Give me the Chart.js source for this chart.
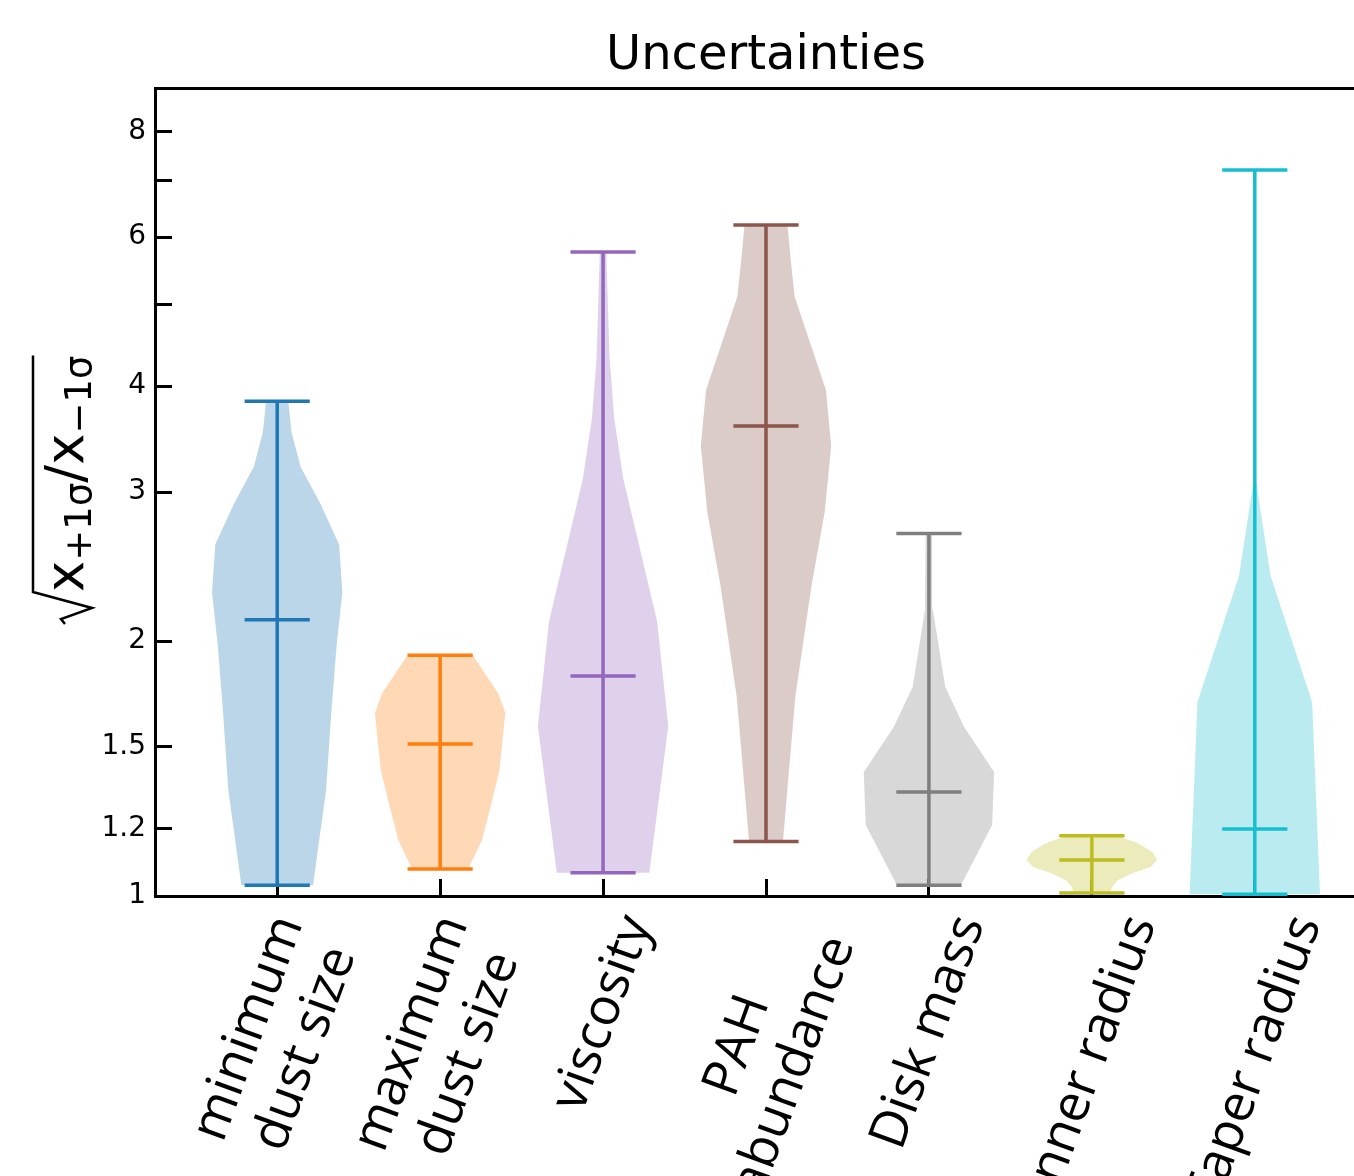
<!DOCTYPE html>
<html>
<head>
<meta charset="utf-8">
<title>Uncertainties</title>
<script src="https://cdn.jsdelivr.net/npm/chart.js@4.4.1/dist/chart.umd.min.js"></script>
<style>
  html, body { margin: 0; padding: 0; background: #fff; overflow: hidden; }
  #wrap { width: 1354px; height: 1176px; overflow: hidden; }
</style>
</head>
<body>
<div id="wrap"><canvas id="chartViolin" width="1532" height="1176"></canvas></div>
<script>
// categories (one violin each)
const categories = [['minimum', 'dust size'], ['maximum', 'dust size'], ['viscosity'], ['PAH', 'abundance'], ['Disk mass'], ['Inner radius'], ['Taper radius']];
const seriesColors = ['#1f77b4', '#ff7f0e', '#9467bd', '#8c564b', '#7f7f7f', '#bcbd22', '#17becf'];

const yTickValues = [1, 1.2, 1.5, 2, 3, 4, 5, 6, 7, 8];
const yTickLabels = ['1', '1.2', '1.5', '2', '3', '4', '', '6', '', '8'];

// violin outlines : levels on the y axis, density scaled so the widest point = 1
const minDustLevels = [1.03, 1.334, 1.645, 1.97, 2.285, 2.60, 2.91, 3.21, 3.53, 3.84];
const minDustDensity = [0.55, 0.75, 0.83, 0.91, 1.0, 0.95, 0.66, 0.36, 0.22, 0.17];

const maxDustLevels = [1.076, 1.164, 1.263, 1.408, 1.645, 1.736, 1.925];
const maxDustDensity = [0.43, 0.64, 0.76, 0.91, 1.0, 0.89, 0.5];

const viscosityLevels = [1.065, 1.587, 2.11, 3.11, 3.67, 4.32, 5.76];
const viscosityDensity = [0.71, 1.0, 0.83, 0.31, 0.17, 0.1, 0.05];

const pahLevels = [1.16, 1.72, 2.33, 2.84, 3.40, 3.96, 5.10, 5.63, 6.20];
const pahDensity = [0.26, 0.45, 0.70, 0.90, 1.0, 0.92, 0.44, 0.38, 0.33];

const diskMassLevels = [1.03, 1.213, 1.401, 1.583, 1.765, 2.18, 2.68];
const diskMassDensity = [0.49, 0.97, 1.0, 0.54, 0.25, 0.06, 0.05];

const innerRadiusLevels = [1.008, 1.025, 1.0445, 1.0645, 1.082, 1.103, 1.127, 1.155, 1.178];
const innerRadiusDensity = [0.28, 0.31, 0.40, 0.63, 0.9, 1.0, 0.93, 0.70, 0.38];

const taperRadiusLevels = [1.005, 1.694, 2.39, 3.09, 7.20];
const taperRadiusDensity = [1.0, 0.88, 0.24, 0.02, 0.01];

// extrema and medians
const statMin = [1.03, 1.076, 1.065, 1.16, 1.03, 1.008, 1.005];
const statMedian = [2.12, 1.512, 1.819, 3.59, 1.327, 1.103, 1.20];
const statMax = [3.84, 1.925, 5.76, 6.20, 2.68, 1.178, 7.20];

const allLevels = [minDustLevels, maxDustLevels, viscosityLevels, pahLevels, diskMassLevels, innerRadiusLevels, taperRadiusLevels];
const allDensity = [minDustDensity, maxDustDensity, viscosityDensity, pahDensity, diskMassDensity, innerRadiusDensity, taperRadiusDensity];

const halfWidth = 0.4;
const capHalf = 0.2;

const hexAlpha = (hex, a) => {
	const n = parseInt(hex.slice(1), 16);
	return `rgba(${n >> 16}, ${(n >> 8) & 255}, ${n & 255}, ${a})`;
};

const violinSets = allLevels.map((lv, i) => {
	const pos = i + 1;
	const right = lv.map((y, k) => ({x: pos + halfWidth * allDensity[i][k], y}));
	const left = lv.map((y, k) => ({x: pos - halfWidth * allDensity[i][k], y})).reverse();
	return {
		data: right.concat(left),
		backgroundColor: hexAlpha(seriesColors[i], 0.3),
		borderWidth: 0,
		pointRadius: 0,
		fill: 'shape',
		order: 2
	};
});

const whiskerSets = statMin.map((mn, i) => {
	const pos = i + 1;
	return {
		data: [
			{x: pos - capHalf, y: statMax[i]}, {x: pos + capHalf, y: statMax[i]}, {x: pos, y: null},
			{x: pos, y: statMax[i]}, {x: pos, y: mn}, {x: pos, y: null},
			{x: pos - capHalf, y: mn}, {x: pos + capHalf, y: mn}, {x: pos, y: null},
			{x: pos - capHalf, y: statMedian[i]}, {x: pos + capHalf, y: statMedian[i]}
		],
		borderColor: seriesColors[i],
		borderWidth: 3.5,
		borderCapStyle: 'butt',
		pointRadius: 0,
		fill: false,
		spanGaps: false,
		order: 1
	};
});

// rotated, multi-line category labels centred under each tick
const categoryLabels = {
	id: 'categoryLabels',
	afterDraw(chart) {
		const {ctx, scales: {x}} = chart;
		const ang = 70 * Math.PI / 180;
		const lineH = 60;
		ctx.save();
		ctx.font = '52px "Open Sans"';
		ctx.fillStyle = '#000';
		ctx.textAlign = 'center';
		ctx.textBaseline = 'middle';
		categories.forEach((lines, i) => {
			const w = Math.max(...lines.map(t => ctx.measureText(t).width));
			const h = lines.length * lineH;
			const boxH = w * Math.sin(ang) + h * Math.cos(ang);
			const cx = x.getPixelForValue(i + 1);
			const cy = chart.chartArea.bottom + 12 + boxH / 2;
			ctx.save();
			ctx.translate(cx, cy);
			ctx.rotate(-ang);
			lines.forEach((t, k) => ctx.fillText(t, 0, (k - (lines.length - 1) / 2) * lineH));
			ctx.restore();
		});
		ctx.restore();
	}
};

// sqrt(x_{+1σ}/x_{-1σ}) label on the y axis
const yAxisLabel = {
	id: 'yAxisLabel',
	afterDraw(chart) {
		const {ctx} = chart;
		ctx.save();
		ctx.translate(83, 592);
		ctx.rotate(-Math.PI / 2);
		ctx.fillStyle = '#000';
		ctx.textBaseline = 'alphabetic';
		ctx.textAlign = 'left';
		const big = '53px "DejaVu Sans"', small = '37px "DejaVu Sans"';
		let u = 0;
		const put = (t, font, dv) => {
			ctx.font = font;
			ctx.fillText(t, u, dv);
			u += ctx.measureText(t).width;
		};
		put('x', big, 0);
		put('+1σ', small, 8);
		put('/', big, 0);
		put('x', big, 0);
		put('\u22121σ', small, 8);
		// radical
		ctx.strokeStyle = '#000';
		ctx.lineWidth = 2.5;
		ctx.lineJoin = 'miter';
		ctx.beginPath();
		ctx.moveTo(u, -50);
		ctx.lineTo(0, -50);
		ctx.lineTo(-16, 9);
		ctx.lineTo(-27, -22);
		ctx.lineTo(-32, -18);
		ctx.stroke();
		ctx.restore();
	}
};

Chart.defaults.font.family = '"DejaVu Sans"';
Chart.defaults.color = '#000';

const chartViolin = new Chart(
	document.getElementById('chartViolin'),
	{
		type: 'line',
		data: {
			datasets: whiskerSets.concat(violinSets)
		},
		options: {
			responsive: false,
			animation: false,
			devicePixelRatio: 1,
			layout: { padding: { left: 0, right: 155, top: 0, bottom: 0 } },
			plugins: {
				legend: { display: false },
				tooltip: { enabled: false },
				title: {
					display: true,
					fullSize: false,
					text: 'Uncertainties',
					color: '#000',
					font: { family: '"DejaVu Sans"', size: 48, weight: 'normal' },
					padding: { top: 28, bottom: 2.4 }
				}
			},
			scales: {
				x: {
					type: 'linear',
					position: 'bottom',
					min: 0.25,
					max: 7.75,
					afterBuildTicks: s => { s.ticks = categories.map((c, i) => ({value: i + 1})); },
					afterFit: s => { s.height = 280; },
					ticks: { display: false },
					grid: { drawOnChartArea: false, drawTicks: true, tickLength: -17, tickWidth: 3, tickColor: '#000' },
					border: { display: true, color: '#000', width: 3 }
				},
				xTop: {
					type: 'linear',
					position: 'top',
					min: 0.25,
					max: 7.75,
					afterFit: s => { s.height = 0; },
					ticks: { display: false },
					grid: { display: false },
					border: { display: true, color: '#000', width: 3 }
				},
				y: {
					type: 'logarithmic',
					min: 1,
					max: 9,
					afterBuildTicks: s => { s.ticks = yTickValues.map(v => ({value: v})); },
					afterFit: s => { s.width = 155; },
					ticks: {
						padding: 26,
						font: { size: 28 },
						callback: (v) => yTickLabels[yTickValues.indexOf(v)]
					},
					grid: { drawOnChartArea: false, drawTicks: true, tickLength: -17, tickWidth: 3, tickColor: '#000' },
					border: { display: true, color: '#000', width: 3 }
				}
			}
		},
		plugins: [categoryLabels, yAxisLabel]
	}
);
</script>
</body>
</html>
